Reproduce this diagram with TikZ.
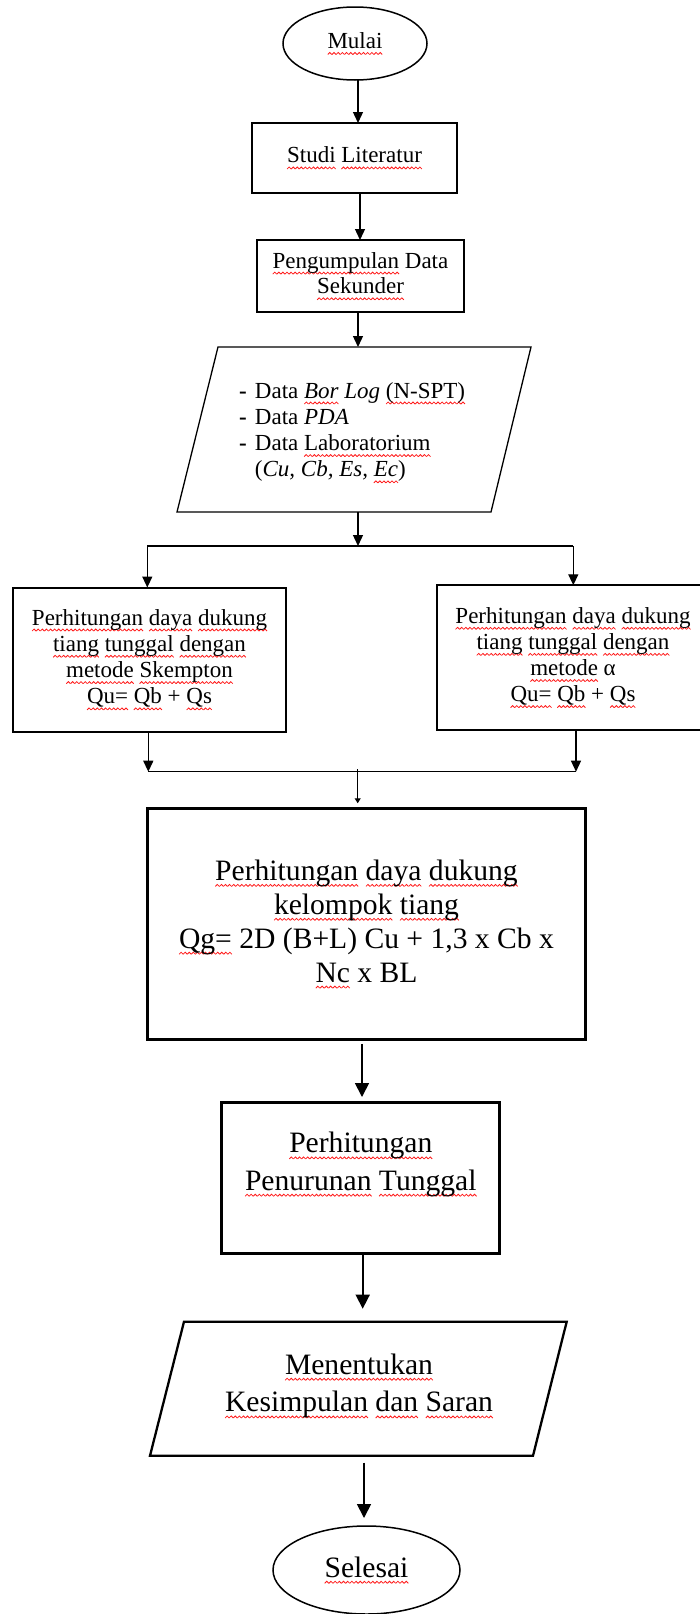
\documentclass[tikz,border=0pt]{standalone}
\usepackage{fontspec}
\setmainfont{Liberation Serif}
\usetikzlibrary{arrows.meta,shapes.geometric}
\newsavebox\wvbox
\newsavebox\sqtextbox
\newcommand\sq[1]{\leavevmode\sbox\sqtextbox{#1}\rlap{\lower6pt\hbox to\wd\sqtextbox{\xleaders\hbox{\usebox\wvbox}\hfil}}\usebox\sqtextbox}
\begin{document}
\sbox\wvbox{\begin{pgfpicture}\pgfpathrectanglecorners{\pgfpointorigin}{\pgfpoint{4pt}{2pt}}\pgfusepath{use as bounding box}\pgfsetlinewidth{0.8pt}\pgfsetstrokecolor{red!90}\pgfpathmoveto{\pgfpointorigin}\pgfpathlineto{\pgfpoint{2pt}{2pt}}\pgfpathlineto{\pgfpoint{4pt}{0pt}}\pgfusepath{stroke}\end{pgfpicture}}%
\begin{tikzpicture}[x=1pt,y=-1pt,
  every node/.style={inner sep=0pt, outer sep=0pt},
  sm/.style={font=\fontsize{23}{26.4}\selectfont, align=center},
  bg/.style={font=\fontsize{29.6}{33.9}\selectfont, align=center},
  box/.style={draw, rectangle},
  arr/.style={line width=1.3pt, -{Triangle[width=10pt,length=11pt]}},
  barr/.style={line width=1.7pt, -{Triangle[width=14pt,length=14pt]}},
  ln/.style={line width=1.3pt}]
\useasboundingbox (0,0) rectangle (700,1614);

% columns for connectors
\coordinate (x358) at (358,0);
\coordinate (x360) at (360,0);
\coordinate (x362) at (362,0);

% nodes
\node[draw, ellipse, line width=1.5pt, minimum width=144pt, minimum height=73pt, sm] (mulai) at (355,43.5) {\sq{Mulai}};
\node[box, line width=2.7pt, minimum width=205pt, minimum height=70pt, sm] (studi) at (354.5,158) {\sq{Studi} \sq{Literatur}};
\node[box, line width=2.7pt, minimum width=207pt, minimum height=72pt, font=\fontsize{23}{25.7}\selectfont, align=center] (kumpul) at (360.5,276) {\sq{Pengumpulan} Data\\\sq{Sekunder}};

% parallelogram 1
\coordinate (p1a) at (218,347);
\coordinate (p1b) at (531,347);
\coordinate (p1c) at (491,512);
\coordinate (p1d) at (177,512);
\draw[line width=1.3pt] (p1a) -- (p1b) -- (p1c) -- (p1d) -- cycle;
\node[anchor=base west, font=\fontsize{23}{26.3}\selectfont] (p1txt) at (239,398) {\begin{tabular}[t]{@{}l@{\hspace{8.3pt}}l@{}}
\textbf{-} & Data \textit{\sq{Bor} Log} \sq{(N-SPT)}\\
\textbf{-} & Data \textit{PDA}\\
\textbf{-} & Data \sq{Laboratorium}\\
 & (\textit{Cu, Cb, Es, \sq{Ec}})
\end{tabular}};

\node[box, line width=2pt, minimum width=273pt, minimum height=144pt, font=\fontsize{23}{26.3}\selectfont, align=center] (lbox) at (149.5,659.5) {\sq{Perhitungan} \sq{daya} \sq{dukung}\\\sq{tiang} \sq{tunggal} \sq{dengan}\\\sq{metode} \sq{Skempton}\\\sq{Qu=} \sq{Qb} + \sq{Qs}};
\node[box, line width=2pt, minimum width=272pt, minimum height=144.5pt, font=\fontsize{23}{26.1}\selectfont, align=center] (rbox) at (573,657.5) {\sq{Perhitungan} \sq{daya} \sq{dukung}\\\sq{tiang} \sq{tunggal} \sq{dengan}\\\sq{metode} α\\\sq{Qu=} \sq{Qb} + \sq{Qs}};

\node[box, line width=3.3pt, minimum width=438.4pt, minimum height=231.5pt, bg] (bbox) at (366.5,924) {\sq{Perhitungan} \sq{daya} \sq{dukung}\\\sq{kelompok} \sq{tiang}\\\sq{Qg=} 2D (B+L) Cu + 1,3 x Cb x\\\sq{Nc} x BL};

\node[box, line width=3pt, minimum width=278.3pt, minimum height=151pt] (pen) at (360.8,1177.5) {};
\node[font=\fontsize{29.6}{37.3}\selectfont, align=center] (pentxt) at (360.8,1164.5) {\sq{Perhitungan}\\\sq{Penurunan} \sq{Tunggal}};

% parallelogram 2
\coordinate (q1a) at (184,1321.7);
\coordinate (q1b) at (566.7,1321.7);
\coordinate (q1c) at (533,1455.7);
\coordinate (q1d) at (150,1455.7);
\draw[line width=2.3pt] (q1a) -- (q1b) -- (q1c) -- (q1d) -- cycle;
\node[font=\fontsize{29.6}{37.7}\selectfont, align=center] (p2txt) at (359,1386) {\sq{Menentukan}\\\sq{Kesimpulan} \sq{dan} \sq{Saran}};

\node[draw, ellipse, line width=1.5pt, minimum width=187pt, minimum height=88pt, font=\fontsize{29.6}{34}\selectfont] (selesai) at (366.5,1570) {\sq{Selesai}};

% connectors
\draw[arr] (mulai.south -| x358) -- (studi.north -| x358);
\draw[arr] (studi.south -| x360) -- (kumpul.north -| x360);
\coordinate (p1top) at (358,347);
\draw[arr] (kumpul.south -| x358) -- (p1top);
\coordinate (p1bot) at (358,512);
\coordinate (j1) at (358,546);
\draw[arr] (p1bot) -- (j1);
\coordinate (jl) at (147.3,546);
\coordinate (jr) at (573.3,546);
\draw[ln] (jl) -- (jr);
\draw[arr] (jl) -- (lbox.north -| jl);
\draw[arr] (jr) -- (rbox.north -| jr);
\coordinate (kl) at (148.3,771.7);
\coordinate (kr) at (576,771.7);
\draw[arr] (lbox.south -| kl) -- (kl);
\draw[arr] (rbox.south -| kr) -- (kr);
\draw[ln] (kl) -- (kr);
\coordinate (m1) at (357.7,769);
\draw[line width=1pt, -{Triangle[width=6pt,length=5pt]}, shorten >=5pt] (m1) -- (bbox.north -| m1);
\draw[barr, shorten <=4pt, shorten >=5pt] (bbox.south -| x362) -- (pen.north -| x362);
\coordinate (q2top) at (362.7,1321.7);
\draw[barr, shorten >=13pt] (pen.south -| q2top) -- (q2top);
\coordinate (q2bot) at (364,1455.7);
\draw[barr, shorten <=7pt, shorten >=8pt] (q2bot) -- (selesai.north -| q2bot);
\end{tikzpicture}
\end{document}
